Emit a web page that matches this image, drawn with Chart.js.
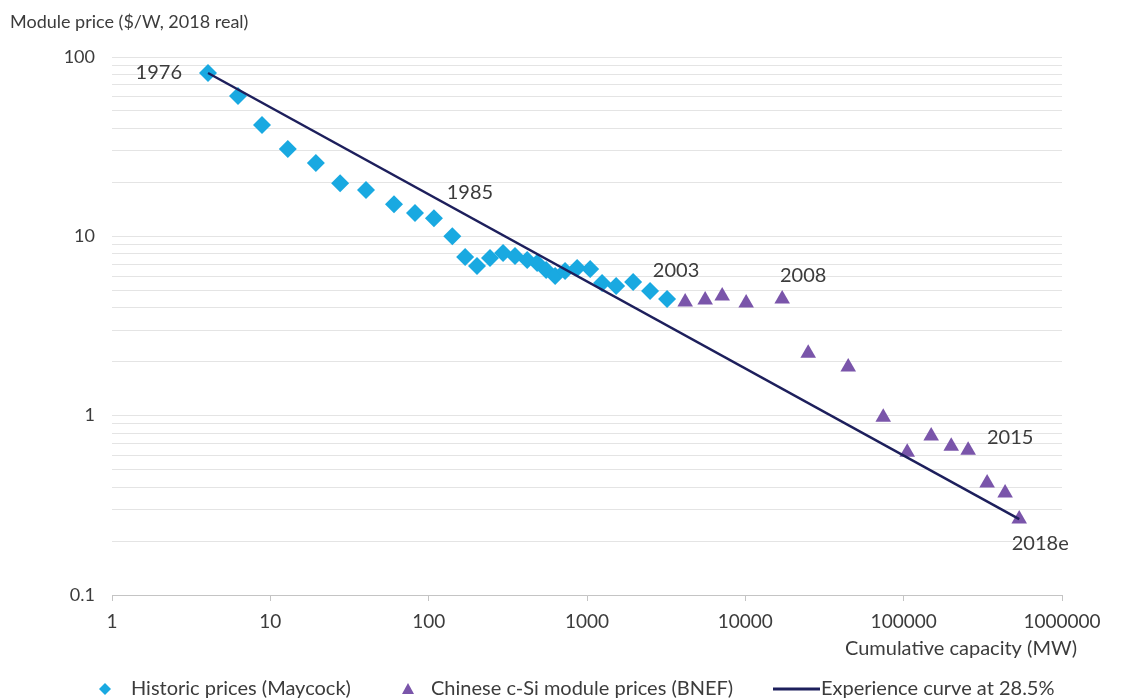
<!DOCTYPE html>
<html>
<head>
<meta charset="utf-8">
<title>PV module experience curve</title>
<script src="https://cdn.jsdelivr.net/npm/chart.js@4.4.1/dist/chart.umd.min.js"></script>
<style>
    html, body { margin: 0; padding: 0; background: #ffffff; }
    #wrap { width: 1122px; height: 700px; }
</style>
</head>
<body>
<div id="wrap"><canvas id="learningChart" width="1122" height="700"></canvas></div>
<script>
// ------------------------------------------------------------
// Data
// x = cumulative capacity (MW), y = module price ($/W, 2018 real)
// ------------------------------------------------------------

// Historic prices (Maycock), 1976 - 2003
const historicCapacity = [4.04, 6.25, 8.86, 12.9, 19.4, 27.6, 40.2, 60.4, 82, 108,
    141, 170, 202, 244, 295, 351, 419, 484, 552, 629,
    727, 866, 1047, 1245, 1527, 1955, 2502, 3204];
const historicPrice = [81.4, 60.6, 41.7, 30.7, 25.6, 19.8, 18.1, 15.1, 13.5, 12.6,
    10.0, 7.67, 6.83, 7.57, 8.07, 7.76, 7.38, 7.10, 6.49, 6.01,
    6.40, 6.66, 6.57, 5.50, 5.28, 5.56, 4.95, 4.47];

// Chinese c-Si module prices (BNEF), 2004 - 2018e
const bnefCapacity = [4169, 5575, 7142, 10120, 17090, 24950, 44650, 74290, 105300, 149200,
    199700, 255400, 336600, 437200, 536800];
const bnefPrice = [4.30, 4.41, 4.65, 4.25, 4.47, 2.23, 1.87, 0.98, 0.626, 0.769,
    0.676, 0.642, 0.421, 0.370, 0.265];

// Experience curve at 28.5% (end points)
const curveCapacity = [4.04, 536800];
const curvePrice = [81.4, 0.265];

// Axis ticks
const xTickValues = [1, 10, 100, 1000, 10000, 100000, 1000000];
const yTickValues = [0.1, 1, 10, 100];

// Year call-outs: label, series and point index
const yearLabels = ['1976', '1985', '2003', '2008', '2015', '2018e'];
const yearSeries = [0, 0, 0, 1, 1, 1];
const yearIndex = [0, 9, 27, 4, 11, 14];

// ------------------------------------------------------------
// Styles
// ------------------------------------------------------------
const FONT = 'Lato, "Noto Sans", sans-serif';
const TEXT_COLOR = '#3c3c3c';
const CYAN = '#19a9e1';
const PURPLE = '#7a55aa';
const NAVY = '#1d1f5c';

// text offset from the point centre, per call-out
const yearOffsets = [
    { dx: -26, dy: 0, align: 'right' },
    { dx: 36, dy: -26, align: 'center' },
    { dx: 9, dy: -28, align: 'center' },
    { dx: 21, dy: -23, align: 'center' },
    { dx: 42, dy: -13, align: 'center' },
    { dx: 21, dy: 24, align: 'center' }
];

function toPoints(xs, ys) {
    return xs.map((x, i) => ({ x: x, y: ys[i] }));
}

// draws the axis titles, the year call-outs and the legend row
const extraText = {
    id: 'extraText',
    afterDraw(chart) {
        const c = chart.ctx;
        const xs = chart.scales.x;
        const ys = chart.scales.y;
        c.save();
        c.fillStyle = TEXT_COLOR;
        c.textBaseline = 'middle';

        // axis titles
        c.font = '18px ' + FONT;
        c.textAlign = 'left';
        c.fillText('Module price ($/W, 2018 real)', 10, 22);
        c.font = '20px ' + FONT;
        c.textAlign = 'right';
        c.fillText('Cumulative capacity (MW)', 1077, 649);

        // year call-outs
        c.font = '20px ' + FONT;
        yearLabels.forEach((txt, i) => {
            const ds = chart.data.datasets[yearSeries[i]].data[yearIndex[i]];
            const off = yearOffsets[i];
            c.textAlign = off.align;
            c.fillText(txt, xs.getPixelForValue(ds.x) + off.dx, ys.getPixelForValue(ds.y) + off.dy);
        });

        // legend
        const ly = 689;
        c.font = '20px ' + FONT;
        c.textAlign = 'left';

        c.fillStyle = CYAN;
        c.beginPath();
        c.moveTo(105, ly - 6);
        c.lineTo(111, ly);
        c.lineTo(105, ly + 6);
        c.lineTo(99, ly);
        c.closePath();
        c.fill();
        c.fillStyle = TEXT_COLOR;
        c.fillText(chart.data.datasets[0].label, 131, ly);

        c.fillStyle = PURPLE;
        c.beginPath();
        c.moveTo(408, ly - 6);
        c.lineTo(414, ly + 5);
        c.lineTo(402, ly + 5);
        c.closePath();
        c.fill();
        c.fillStyle = TEXT_COLOR;
        c.fillText(chart.data.datasets[1].label, 431, ly);

        c.strokeStyle = NAVY;
        c.lineWidth = 3;
        c.beginPath();
        c.moveTo(773, ly);
        c.lineTo(820, ly);
        c.stroke();
        c.fillText(chart.data.datasets[2].label, 821, ly);

        c.restore();
    }
};

const ctx = document.getElementById('learningChart');

new Chart(ctx, {
    type: 'scatter',
    data: {
        datasets: [
            {
                label: 'Historic prices (Maycock)',
                data: toPoints(historicCapacity, historicPrice),
                pointStyle: 'rectRot',
                pointRadius: 9,
                backgroundColor: CYAN,
                borderWidth: 0,
                order: 1
            },
            {
                label: 'Chinese c-Si module prices (BNEF)',
                data: toPoints(bnefCapacity, bnefPrice),
                pointStyle: 'triangle',
                pointRadius: 9,
                backgroundColor: PURPLE,
                borderWidth: 0,
                order: 2
            },
            {
                label: 'Experience curve at 28.5%',
                type: 'line',
                data: toPoints(curveCapacity, curvePrice),
                borderColor: NAVY,
                borderWidth: 2.5,
                pointRadius: 0,
                fill: false,
                order: 0
            }
        ]
    },
    options: {
        responsive: false,
        animation: false,
        layout: { padding: { top: 57, right: 60, bottom: 0, left: 0 } },
        plugins: {
            legend: { display: false },
            tooltip: { enabled: false }
        },
        scales: {
            x: {
                type: 'logarithmic',
                min: 1,
                max: 1000000,
                afterBuildTicks: s => { s.ticks = xTickValues.map(v => ({ value: v })); },
                afterFit: s => { s.height = 105; },
                ticks: {
                    autoSkip: false,
                    maxRotation: 0,
                    padding: 9,
                    color: TEXT_COLOR,
                    font: { family: FONT, size: 19 },
                    callback: v => String(v)
                },
                grid: { drawOnChartArea: false, drawTicks: true, tickLength: 6, color: '#c4c4c4' },
                border: { display: true, color: '#c4c4c4', width: 1 }
            },
            y: {
                type: 'logarithmic',
                min: 0.1,
                max: 100,
                afterBuildTicks: s => {
                    const t = [];
                    [0.1, 1, 10].forEach(d => {
                        for (let m = 1; m <= 9; m++) t.push({ value: m * d });
                    });
                    t.push({ value: 100 });
                    s.ticks = t;
                },
                afterFit: s => { s.width = 112; },
                ticks: {
                    autoSkip: false,
                    padding: 17,
                    color: TEXT_COLOR,
                    font: { family: FONT, size: 18 },
                    callback: v => yTickValues.includes(v) ? String(v) : ''
                },
                grid: { drawTicks: false, color: '#e4e4e4', lineWidth: 1 },
                border: { display: false }
            }
        }
    },
    plugins: [extraText]
});
</script>
</body>
</html>
